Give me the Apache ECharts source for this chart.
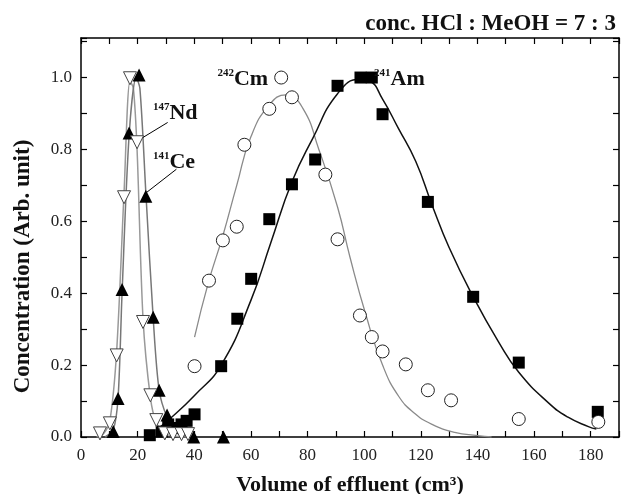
<!DOCTYPE html>
<html>
<head>
<meta charset="utf-8">
<script src="https://cdn.jsdelivr.net/npm/echarts@6/dist/echarts.min.js"></script>
<style>
  html, body { margin: 0; padding: 0; background: #fff; }
  #main { width: 621px; height: 494px; }
</style>
</head>
<body>
<div id="main"></div>
<script>
// measured points [volume, concentration]
var ndPoints = [[6.7,0.01],[10.2,0.038],[12.6,0.227],[15.2,0.667],[17.3,0.998],[19.8,0.82],[21.9,0.32],[24.5,0.116],[26.6,0.047],[29.6,0.01],[32.5,0.008],[35.5,0.008],[37.8,0.008]];
var cePoints = [[11.4,0.015],[13.1,0.107],[14.5,0.41],[17,0.846],[20.5,1.007],[22.9,0.67],[25.5,0.333],[27.6,0.13],[30.4,0.061],[39.8,0],[50.3,0]];
var cmPoints = [[40.1,0.197],[45.2,0.435],[50.1,0.547],[55,0.585],[57.7,0.813],[66.5,0.913],[70.7,1.0],[74.5,0.945],[86.3,0.73],[90.6,0.55],[98.5,0.338],[102.7,0.278],[106.5,0.238],[114.7,0.202],[122.5,0.13],[130.7,0.102],[154.6,0.05],[182.7,0.042]];
var amPoints = [[24.3,0.005],[28.5,0.015],[30.8,0.035],[33.2,0.025],[35.5,0.035],[37.3,0.045],[40.1,0.063],[49.5,0.197],[55.2,0.329],[60.1,0.44],[66.5,0.606],[74.5,0.703],[82.7,0.772],[90.6,0.977],[98.7,1.0],[102.7,1.0],[106.5,0.898],[122.5,0.654],[138.5,0.39],[154.6,0.207],[182.5,0.07]];

// fitted curves
var ndFit = [[5.5,0],[8,0.01],[10.2,0.045],[12.6,0.24],[15.2,0.68],[17.3,0.99],[18.5,0.97],[19.8,0.8],[21.9,0.33],[24.5,0.11],[26.6,0.04],[30,0.008],[38,0]];
var ceFit = [[8.5,0],[11.4,0.02],[13.1,0.11],[14.5,0.4],[17,0.84],[19.5,1.0],[20.8,0.97],[22.9,0.68],[25.5,0.33],[27.6,0.13],[30.4,0.055],[34,0.01],[40,0]];
var cmFit = [[40.1,0.278],[45,0.43],[50.1,0.56],[55,0.7],[60,0.835],[66.5,0.924],[72.4,0.952],[78.3,0.915],[84,0.8],[90.6,0.64],[95,0.5],[100.6,0.34],[106.5,0.2],[112.3,0.112],[118,0.065],[124,0.035],[132,0.013],[140,0.004],[145,0]];
var amFit = [[26.6,0.02],[31.3,0.05],[40,0.115],[49.5,0.2],[60,0.38],[67,0.54],[74.5,0.71],[81.8,0.83],[90.6,0.955],[98.5,0.995],[102,0.99],[106.5,0.94],[112,0.86],[118.2,0.767],[124,0.645],[130,0.527],[138.5,0.39],[147.5,0.264],[154.6,0.18],[165.1,0.095],[172,0.055],[179.2,0.029],[182,0.022]];

// nuclide labels: [x, y, mass number, symbol]
var nuclideLabels = [[25.4,0.9,'147','Nd'],[25.4,0.763,'141','Ce'],[48.2,0.995,'242','Cm'],[103.5,0.995,'241','Am']];
// pointer lines from labels to curves
var pointers = [[[30.6,0.875],[21.2,0.83]],[[33.7,0.745],[23.1,0.68]]];

var xTicks = { min: 0, max: 190, interval: 20 };
var yTicks = { min: 0, max: 1.11, interval: 0.2 };

var serif = '"Liberation Serif", "DejaVu Serif", serif';
var myChart = echarts.init(document.getElementById('main'));

function axisBase(extra) {
    var a = {
        type: 'value',
        axisLine: { show: true, onZero: false, lineStyle: { color: '#000', width: 1.5 } },
        axisTick: { show: true, inside: true, length: 6, lineStyle: { color: '#000', width: 1.2 } },
        minorTick: { show: true, splitNumber: 2, length: 6, lineStyle: { color: '#000', width: 1.2 } },
        splitLine: { show: false },
        axisLabel: { show: false }
    };
    for (var k in extra) a[k] = extra[k];
    return a;
}

var option = {
    animation: false,
    backgroundColor: '#fff',
    title: {
        text: 'conc. HCl : MeOH = 7 : 3',
        right: 0, top: 8,
        textStyle: { fontFamily: serif, fontWeight: 'bold', fontSize: 23, color: '#111' }
    },
    grid: { left: 81, right: 2, top: 38, bottom: 57, outerBoundsMode: 'none' },
    xAxis: [
        axisBase({
            min: xTicks.min, max: xTicks.max, interval: xTicks.interval,
            position: 'bottom',
            axisLabel: { show: true, showMaxLabel: false, fontFamily: serif, fontSize: 17, color: '#222', margin: 10 },
            name: 'Volume of effluent (cm³)',
            nameLocation: 'middle', nameGap: 37,
            nameTextStyle: { fontFamily: serif, fontWeight: 'bold', fontSize: 22, color: '#111' }
        }),
        axisBase({ min: xTicks.min, max: xTicks.max, interval: xTicks.interval, position: 'top' })
    ],
    yAxis: [
        axisBase({
            min: yTicks.min, max: yTicks.max, interval: yTicks.interval,
            position: 'left',
            axisLabel: {
                show: true, showMaxLabel: false, fontFamily: serif, fontSize: 17, color: '#222', margin: 9,
                formatter: function (v) { return v.toFixed(1); }
            },
            name: 'Concentration (Arb. unit)',
            nameLocation: 'middle', nameGap: 46,
            nameTextStyle: { fontFamily: serif, fontWeight: 'bold', fontSize: 23, color: '#111', padding: [0, 58, 0, 0] }
        }),
        axisBase({ min: yTicks.min, max: yTicks.max, interval: yTicks.interval, position: 'right' })
    ],
    series: [
        { type: 'line', data: ndFit, smooth: 0.3, showSymbol: false, lineStyle: { color: '#999', width: 1.5 }, z: 2 },
        { type: 'line', data: ceFit, smooth: 0.3, showSymbol: false, lineStyle: { color: '#777', width: 1.5 }, z: 2 },
        { type: 'line', data: cmFit, smooth: 0.5, showSymbol: false, lineStyle: { color: '#8a8a8a', width: 1.3 }, z: 2 },
        { type: 'line', data: amFit, smooth: 0.5, showSymbol: false, lineStyle: { color: '#111', width: 1.5 }, z: 2 },
        { type: 'scatter', data: amPoints, symbol: 'rect', symbolSize: 12, itemStyle: { color: '#000', opacity: 1 }, z: 3 },
        { type: 'scatter', data: cmPoints, symbol: 'circle', symbolSize: 13,
          itemStyle: { color: '#fff', borderColor: '#222', borderWidth: 1, opacity: 1 }, z: 4 },
        { type: 'scatter', data: cePoints, symbol: 'triangle', symbolSize: 13, itemStyle: { color: '#000', opacity: 1 }, z: 5 },
        { type: 'scatter', data: ndPoints, symbol: 'triangle', symbolRotate: 180, symbolSize: 13,
          itemStyle: { color: '#fff', borderColor: '#444', borderWidth: 1, opacity: 1 }, z: 6 },
        {
            type: 'scatter', symbolSize: 0, silent: true, z: 7,
            itemStyle: { opacity: 1 },
            data: nuclideLabels.map(function (d) { return { value: [d[0], d[1]], sup: d[2], sym: d[3] }; }),
            label: {
                show: true, position: 'inside', align: 'left', verticalAlign: 'middle',
                formatter: function (p) { return '{s|' + p.data.sup + '}{m|' + p.data.sym + '}'; },
                rich: {
                    s: { fontFamily: serif, fontWeight: 'bold', fontSize: 11, color: '#111', verticalAlign: 'top', lineHeight: 24 },
                    m: { fontFamily: serif, fontWeight: 'bold', fontSize: 22, color: '#111', lineHeight: 24 }
                }
            },
            markLine: {
                silent: true, symbol: 'none', animation: false,
                label: { show: false },
                lineStyle: { color: '#000', width: 1, type: 'solid', opacity: 1 },
                data: pointers.map(function (p) { return [{ coord: p[0] }, { coord: p[1] }]; })
            }
        }
    ]
};

myChart.setOption(option);
</script>
</body>
</html>
